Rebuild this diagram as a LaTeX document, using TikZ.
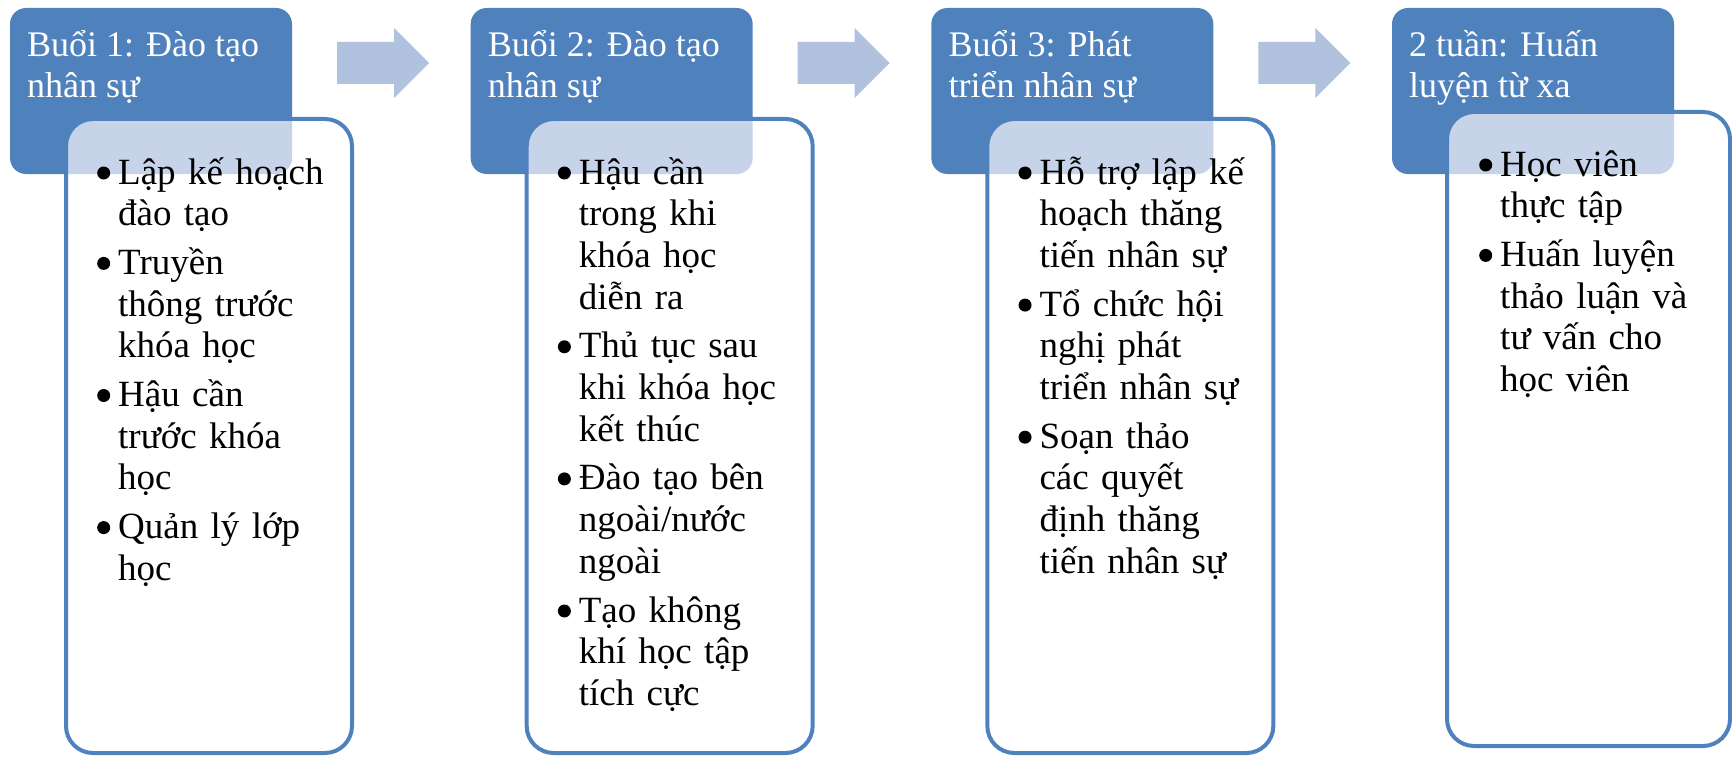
\documentclass[tikz,border=0pt]{standalone}
\usepackage{fontspec}
\setmainfont{Liberation Serif}
\definecolor{hblue}{RGB}{79,129,189}
\definecolor{arrowblue}{RGB}{177,194,222}
\definecolor{overlapblue}{RGB}{198,211,233}
\newcommand{\bul}{\tikz[baseline=0pt]\fill (0pt,11pt) circle[radius=6.5pt];}
\newcommand{\bitem}{\hangindent=21pt\hangafter=1\noindent\makebox[21pt][l]{\bul}}
\newcommand{\nitem}{\par\bitem}
\tikzset{
  hdr/.style={fill=hblue, rounded corners=16pt},
  bodyfill/.style={fill=white, rounded corners=27pt},
  bodyline/.style={draw=hblue, line width=4pt, rounded corners=27pt},
  ovl/.style={fill=overlapblue, rounded corners=16pt},
  htext/.style={text=white, font=\fontsize{36}{41}\selectfont, align=left, inner sep=0pt, anchor=base west},
  btext/.style={text=black, font=\fontsize{37}{41.7}\selectfont\setlength{\parskip}{7pt}, text width=262pt, align=left, inner sep=0pt, anchor=base west},
  flowarrow/.style={fill=arrowblue},
}
\begin{document}
\begin{tikzpicture}[x=1pt,y=-1pt]
\useasboundingbox (0,0) rectangle (1732,757);
% ---------- column 1
\fill[hdr] (10,8) rectangle (292,174);
\fill[bodyfill] (66,119) rectangle (352,753);
\begin{scope}
  \clip[rounded corners=27pt] (66,119) rectangle (352,753);
  \fill[ovl] (10,8) rectangle (292,174);
\end{scope}
\draw[bodyline] (66,119) rectangle (352,753);
\node[htext] (h1) at (27,98) {Buổi 1: Đào tạo\\nhân sự};
\node[btext] (b1) at (97,184) {\bitem Lập kế hoạch\newline đào tạo
\nitem Truyền\newline thông trước\newline khóa học
\nitem Hậu cần\newline trước khóa\newline học
\nitem Quản lý lớp\newline học\par};
% ---------- column 2
\begin{scope}[xshift=460.67pt]
\fill[hdr] (10,8) rectangle (292,174);
\fill[bodyfill] (66,119) rectangle (352,753);
\begin{scope}
  \clip[rounded corners=27pt] (66,119) rectangle (352,753);
  \fill[ovl] (10,8) rectangle (292,174);
\end{scope}
\draw[bodyline] (66,119) rectangle (352,753);
\node[htext] (h2) at (27,98) {Buổi 2: Đào tạo\\nhân sự};
\node[btext] (b2) at (97,184) {\bitem Hậu cần\newline trong khi\newline khóa học\newline diễn ra
\nitem Thủ tục sau\newline khi khóa học\newline kết thúc
\nitem Đào tạo bên\newline ngoài/nước\newline ngoài
\nitem Tạo không\newline khí học tập\newline tích cực\par};
\end{scope}
% ---------- column 3
\begin{scope}[xshift=921.33pt]
\fill[hdr] (10,8) rectangle (292,174);
\fill[bodyfill] (66,119) rectangle (352,753);
\begin{scope}
  \clip[rounded corners=27pt] (66,119) rectangle (352,753);
  \fill[ovl] (10,8) rectangle (292,174);
\end{scope}
\draw[bodyline] (66,119) rectangle (352,753);
\node[htext] (h3) at (27,98) {Buổi 3: Phát\\triển nhân sự};
\node[btext] (b3) at (97,184) {\bitem Hỗ trợ lập kế\newline hoạch thăng\newline tiến nhân sự
\nitem Tổ chức hội\newline nghị phát\newline triển nhân sự
\nitem Soạn thảo\newline các quyết\newline định thăng\newline tiến nhân sự\par};
\end{scope}
% ---------- column 4
\begin{scope}[xshift=1382pt]
\fill[hdr] (10,8) rectangle (292,174);
\fill[bodyfill] (65,112) rectangle (348,746);
\begin{scope}
  \clip[rounded corners=27pt] (65,112) rectangle (348,746);
  \fill[ovl] (10,8) rectangle (292,174);
\end{scope}
\draw[bodyline] (65,112) rectangle (348,746);
\node[htext] (h4) at (27,98) {2 tuần: Huấn\\luyện từ xa};
\node[btext] (b4) at (97,176) {\bitem Học viên\newline thực tập
\nitem Huấn luyện\newline thảo luận và\newline tư vấn cho\newline học viên\par};
\end{scope}
% ---------- arrows
\foreach \i in {0,1,2}{
  \begin{scope}[xshift=\i*460.67pt]
    \fill[flowarrow] (337,42) -- (394,42) -- (394,28) -- (429,63) -- (394,98) -- (394,84) -- (337,84) -- cycle;
  \end{scope}
}
\end{tikzpicture}
\end{document}
